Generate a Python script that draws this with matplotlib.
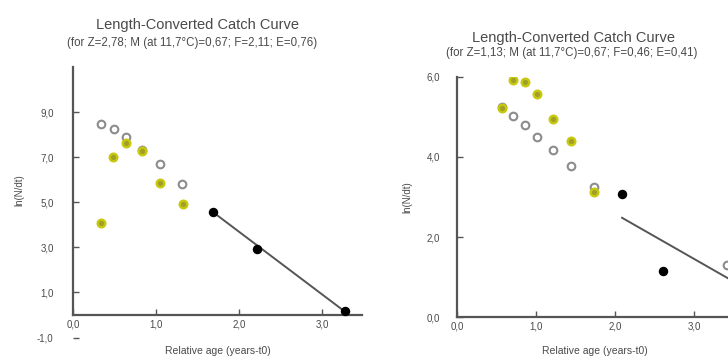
import matplotlib
matplotlib.use('Agg')
from matplotlib import rcParams
import matplotlib.pyplot as plt

rcParams['font.family'] = ['Liberation Sans', 'DejaVu Sans']
rcParams['text.color'] = '#4a4a4a'
rcParams['axes.labelcolor'] = '#4a4a4a'
rcParams['xtick.color'] = '#555555'
rcParams['ytick.color'] = '#555555'
rcParams['xtick.labelcolor'] = '#4a4a4a'
rcParams['ytick.labelcolor'] = '#4a4a4a'

# left panel: Z=2.78
l_open_x = [0.34, 0.49, 0.64, 0.83, 1.05, 1.31]
l_open_y = [8.49, 8.27, 7.91, 7.33, 6.71, 5.82]
l_yel_x = [0.34, 0.48, 0.64, 0.83, 1.05, 1.32]
l_yel_y = [4.09, 7.02, 7.64, 7.29, 5.87, 4.93]
l_blk_x = [1.69, 2.22, 3.27]
l_blk_y = [4.58, 2.93, 0.18]
l_fit_x = [1.69, 3.27]
l_fit_y = [4.55, 0.16]

# right panel: Z=1.13
r_open_x = [0.57, 0.71, 0.86, 1.01, 1.22, 1.44, 1.73, 3.42]
r_open_y = [5.25, 5.02, 4.80, 4.50, 4.18, 3.78, 3.25, 1.30]
r_yel_x = [0.57, 0.71, 0.86, 1.01, 1.22, 1.44, 1.73]
r_yel_y = [5.22, 5.93, 5.88, 5.57, 4.95, 4.40, 3.12]
r_blk_x = [2.09, 2.61]
r_blk_y = [3.08, 1.15]
r_fit_x = [2.09, 3.50]
r_fit_y = [2.48, 0.89]

l_yticks = [-1, 1, 3, 5, 7, 9]
r_yticks = [0, 2, 4, 6]
xticks = [0, 1, 2, 3]


def comma(v):
    return ('%.1f' % v).replace('.', ',')


def style_axes(ax):
    for s in ['top', 'right']:
        ax.spines[s].set_visible(False)
    for s in ['left', 'bottom']:
        ax.spines[s].set_color('#555555')
        ax.spines[s].set_linewidth(1.6)
    ax.tick_params(direction='in', length=4, width=1, labelsize=7)
    ax.set_xticks(xticks)
    ax.set_xticklabels([comma(v) for v in xticks])
    ax.set_xlabel('Relative age (years-t0)', fontsize=7.5)


def draw_points(ax, ox, oy, yx, yy, bx, by, fx, fy):
    ax.plot(fx, fy, color='#555555', lw=1.4, zorder=2)
    ax.plot(ox, oy, 'o', ms=5.5, mfc='white', mec='#8c8c8c', mew=1.5,
            ls='none', zorder=3)
    ax.plot(yx, yy, 'o', ms=5.5, mfc='#a0a028', mec='#c8c810', mew=1.7,
            ls='none', zorder=4)
    ax.plot(bx, by, 'o', ms=5.8, color='black', ls='none', zorder=5)


fig = plt.figure(figsize=(7.28, 3.63), dpi=100)

# left
ax1 = fig.add_axes([0.1003, 0.0702, 0.397, 0.7452])
style_axes(ax1)
ax1.set_xlim(0, 3.48)
ax1.set_ylim(-1, 11)
ax1.spines['left'].set_bounds(0, 11)
ax1.spines['bottom'].set_position(('data', 0))
ax1.set_yticks(l_yticks)
ax1.set_yticklabels([comma(v) for v in l_yticks])
ax1.tick_params(axis='y', pad=14)
ax1.set_ylabel('ln(N/dt)', fontsize=7)
ax1.yaxis.set_label_coords(-0.17, 0.545)
ax1.xaxis.set_label_coords(0.5, -0.032)
draw_points(ax1, l_open_x, l_open_y, l_yel_x, l_yel_y,
            l_blk_x, l_blk_y, l_fit_x, l_fit_y)
fig.text(197 / 728, 1 - 25 / 363, 'Length-Converted Catch Curve',
         ha='center', va='center', fontsize=10.5)
fig.text(192 / 728, 1 - 43 / 363,
         '(for Z=2,78; M (at 11,7\u00b0C)=0,67; F=2,11; E=0,76)',
         ha='center', va='center', fontsize=8.3)

# right
ax2 = fig.add_axes([0.6277, 0.1267, 0.3798, 0.6612])
style_axes(ax2)
ax2.set_xlim(0, 3.5)
ax2.set_ylim(0, 6)
ax2.set_yticks(r_yticks)
ax2.set_yticklabels([comma(v) for v in r_yticks])
ax2.tick_params(axis='y', pad=12)
ax2.set_ylabel('ln(N/dt)', fontsize=7)
ax2.yaxis.set_label_coords(-0.16, 0.5)
ax2.xaxis.set_label_coords(0.5, -0.122)
draw_points(ax2, r_open_x, r_open_y, r_yel_x, r_yel_y,
            r_blk_x, r_blk_y, r_fit_x, r_fit_y)
fig.text(574 / 728, 1 - 38 / 363, 'Length-Converted Catch Curve',
         ha='center', va='center', fontsize=10.5)
fig.text(572 / 728, 1 - 53 / 363,
         '(for Z=1,13; M (at 11,7\u00b0C)=0,67; F=0,46; E=0,41)',
         ha='center', va='center', fontsize=8.3)

fig.savefig('out.png', dpi=100)
